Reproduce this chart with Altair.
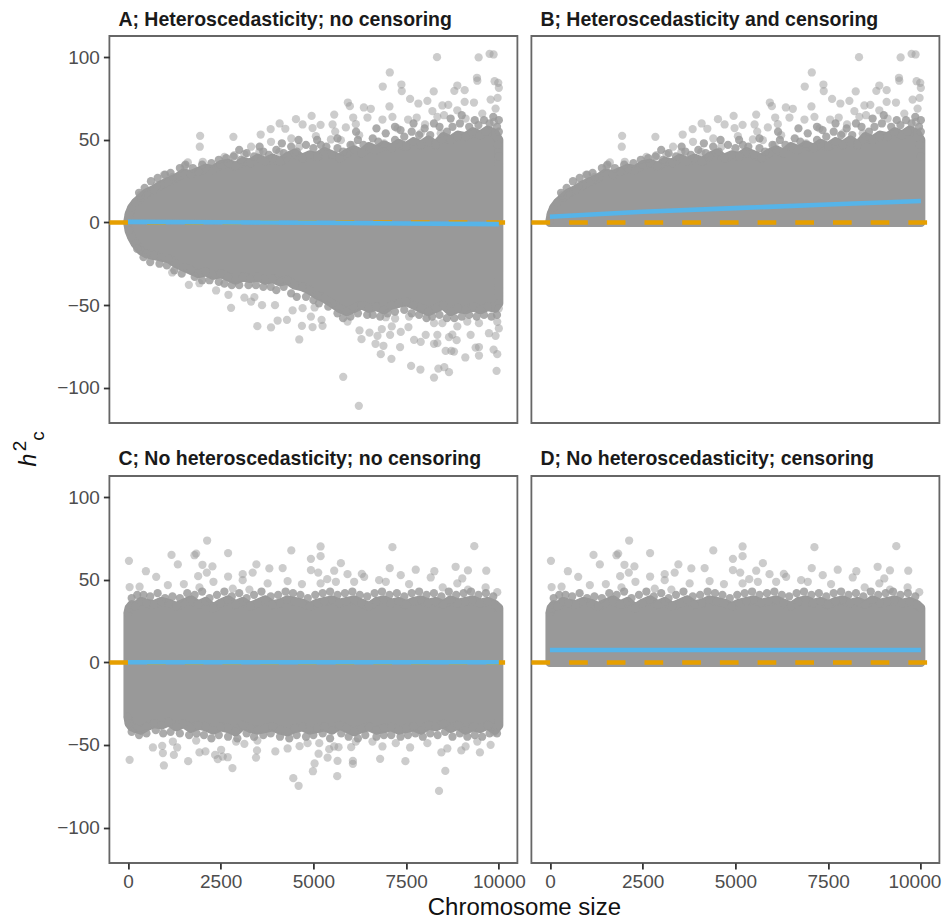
import altair as alt
import pandas as pd

STATION_X = [0,30,100,200,350,500,700,900,1100,1300,1500,1700,1900,2100,2300,2500,2700,2900,3100,3300,3500,3700,3900,4100,4300,4500,4700,4900,5100,5300,5500,5700,5900,6100,6300,6500,6700,6900,7100,7300,7500,7700,7900,8100,8300,8500,8700,8900,9100,9300,9500,9700,9900,10000]
HET_TOP = [1,5,9,12,15,18,20,23,25,27,30,29,31,33,32,35,36,34,37,36,39,37,39,37,40,42,39,41,40,43,41,39,42,44,42,46,44,47,45,48,46,49,47,50,47,52,50,53,52,55,53,56,54,50]
HET_BOTTOM = [-1,-5,-9,-13,-17,-19,-20,-21,-22,-25,-27,-29,-31,-30,-32,-31,-33,-35,-33,-34,-33,-35,-34,-36,-35,-38,-39,-41,-44,-46,-49,-52,-54,-52,-50,-52,-51,-53,-50,-49,-48,-50,-52,-54,-52,-50,-54,-52,-53,-51,-53,-51,-52,-49]
HOM_TOP = [30,33,35,34,37,36,35,37,36,34,36,38,35,37,33,36,38,35,37,34,36,38,35,36,38,37,36,34,36,37,38,36,37,38,36,34,37,38,36,37,35,37,38,36,37,35,38,36,37,38,36,37,35,33]
HOM_BOTTOM = [-33,-37,-39,-40,-41,-39,-37,-38,-36,-39,-37,-40,-38,-39,-41,-39,-40,-42,-38,-40,-41,-40,-39,-41,-42,-40,-39,-41,-40,-39,-41,-38,-40,-42,-40,-39,-41,-40,-39,-41,-40,-39,-41,-38,-39,-37,-40,-38,-41,-39,-40,-38,-41,-38]

HET_UP_X = [8333,9455,9750,9858,7060,6870,7373,7382,8244,8800,8880,9078,9410,9419,9885,9984,10000,7607,7830,8073,8208,8477,8638,9078,9329,9778,9966,5929,5983,6360,6548,7050,5561,4952,4530,4709,4090,3848,4243,3579,2843,1946,1937,5194,4978,5517,5588,5875,6073,6144,6458,6862,7131,7553,7786,8010,8342,8522,8880,9104,9553,9912,9867,4404,5068,5472,5741,6234,3857,3319,2870,2601,2018,1615,1525,1211,969,780,332,3139,3543,4081,4619,6054,6907,7266,7894,8432,8880,9643,9966,10000]
HET_UP_Y = [100.2,100,102.2,101.8,90.9,82.4,83.6,79.6,79.4,79.8,83,80.2,87.7,85.9,85.6,84.6,81.6,74.9,72.1,73.7,67.5,70.9,71.3,73.1,72.7,74.5,75.5,72.7,70.5,69.7,68.9,70.3,65.4,64.6,62.6,59.4,60,56.6,56.8,53.3,51.9,52.5,45.9,59.2,57.2,59.4,55.1,57.6,63.6,59.6,63.6,62.4,64,62.4,63.6,59.4,64,65,68,63,66,69,61,50.9,52.3,50.3,49.9,52.9,48.9,45.9,40.8,39.8,36.8,36.4,34.1,27.7,28.9,22.6,16.6,41.4,42.8,42.8,45.9,46.9,47.9,57,54,54,52,55,47,40]
HET_UP_BAND_X = [300,450,620,800,1000,1150,1400,1550,1750,2000,2250,2450,2650,2850,3050,3200,3400,3650,3800,4000,4200,4400,4550,4800,5000,5200,5350,5650,5800,6000,6200,6350,6600,6750,6950,7200,7350,7450,7650,7850,8000,8150,8400,8600,8750,8950,9200,9350,9450,9600,9750,9850,9950,10000,10000,9000,8700,8250,7700,7200,6700,6150,5650,5100,4600,4150,3550,3000]
HET_UP_BAND_Y = [18,21,25,27,29,30,33,35,33,35,36,38,39,40,38,42,40,43,41,44,42,46,43,47,45,47,46,45,43,47,50,47,51,49,54,50,56,52,55,53,57,53,58,55,58,60,58,62,59,62,60,64,58,62,55,65,63,60,60,58,57,55,51,50,50,48,46,44]
HET_DOWN_X = [6225,5804,8252,7885,7634,8369,8530,8656,9939,7104,6817,7337,6889,6674,9096,9464,9374,9464,9858,9957,8719,8791,8566,8342,8252,8656,8862,9239,9733,9912,10000,9957,7894,7714,8028,7562,7580,7355,7068,6844,7113,7203,6952,6512,6728,6297,6243,5920,4619,4978,4691,5247,5220,3857,3489,4036,4287,2780,3615,3965,4440,5032,4933,4709,1193,1642,1928,2377,2709,3139,3409,3319,8252,8477,8880,9149,9464,10000,8342,8746]
HET_DOWN_Y = [-111.1,-93.5,-94,-89.1,-86.9,-88.5,-87.7,-90.7,-89.9,-82.6,-79.8,-75.5,-74.7,-73.5,-81.8,-80.6,-75.8,-75.5,-77,-79.8,-77.8,-78.2,-77.8,-73.1,-73.5,-69.5,-71.3,-68.1,-67.1,-68.7,-64.2,-60.2,-72.3,-71.1,-68.1,-63.4,-57,-66.3,-68.1,-64.6,-63,-58.2,-57.4,-66.7,-68.7,-70.7,-65.4,-60,-70.9,-63.4,-62.6,-62.6,-59,-63.6,-62.8,-59.4,-59,-51.7,-50.1,-50.1,-53.3,-51.5,-57,-51.9,-30.3,-37.8,-36.8,-41.2,-43.8,-45.5,-45.2,-47.9,-61,-61,-63,-60,-61,-52,-68.1,-68]
HET_DOWN_BAND_X = [250,420,600,850,1050,1250,1450,1800,2000,2200,2450,2600,2800,3000,3250,3450,3650,3850,4000,4200,4400,4550,4800,5000,5150,5400,5650,5800,6000,6200,6450,6600,6800,7000,7200,7450,7650,7850,8050,8200,8400,8600,8800,9000,9200,9400,9600,9800,9950]
HET_DOWN_BAND_Y = [-16,-21,-24,-25,-26,-29,-31,-33,-35,-35,-36,-37,-38,-38,-38,-38,-39,-39,-41,-39,-43,-45,-45,-47,-49,-51,-55,-58,-57,-55,-56,-56,-57,-55,-54,-53,-55,-56,-58,-57,-56,-58,-58,-57,-56,-57,-56,-57,-56]
HOM_UP_X = [27,1175,1345,1839,1794,2135,2700,4404,5194,5194,4933,7131,9338,5741,484,762,2009,2278,2126,1893,2700,3094,3463,3363,3812,4171,4933,5130,5561,5920,6306,6369,7059,7355,7759,8261,8835,9167,9661,8163,9014,5373,4305,3094,45,314,1076,1507,2305,3767,4691,5194,5606,6099,6772,6952,7579,8880,9643,9957,1928,2826,3274,8486,9167]
HOM_UP_Y = [61.6,65.2,59.4,66,65,73.9,66.3,67.9,70.3,64.4,62.8,69.9,70.5,60.2,55.3,51.9,59.2,58.2,54.5,52.3,52.1,53.5,59.4,54.5,57,57.2,56,54.5,55.6,53.5,53.7,51.9,57.2,52.9,56.2,55.3,58,55.8,55.6,51.5,50.9,50.5,49.3,49.9,45.7,45.9,46.9,47.5,48.9,47.9,47.5,47.9,48.9,48.9,49.9,48.9,47.5,47.9,45.5,42.6,45.5,44.8,44.2,45.5,44.2]
HOM_UP_BAND_X = [100,250,420,600,800,1000,1200,1400,1600,1800,2000,2200,2400,2600,2800,3000,3200,3400,3600,3850,4050,4250,4450,4650,4850,5050,5250,5450,5650,5850,6050,6250,6450,6650,6850,7050,7250,7450,7650,7850,8050,8250,8450,8650,8850,9050,9250,9450,9650,9850]
HOM_UP_BAND_Y = [39,41,41,40,42,39,40,39,42,41,43,39,41,43,40,42,39,41,43,40,41,43,42,41,39,41,42,43,41,42,43,41,40,42,43,41,42,40,42,43,41,42,40,43,41,42,43,41,42,40]
HOM_DOWN_X = [45,673,924,942,969,1238,1327,1624,1928,2090,2350,2512,2422,2557,2691,2817,3453,3480,3489,3139,3974,4305,4628,4458,4601,4987,5032,5140,5158,5382,5427,5561,5678,5651,5642,6019,6064,6064,6799,6862,7481,7607,8387,8557,8450,8611,8988,9104,9490,9778,8073,7221,6144,6593,4844,2915,1839,1211,9419,9867]
HOM_DOWN_Y = [-59,-51.5,-50.5,-54.9,-62.4,-56,-51.5,-59.8,-54.5,-53.9,-56,-52.9,-58.6,-57,-57.4,-64,-57.6,-53.3,-47.3,-49.3,-53.9,-52.1,-50.7,-70.1,-74.7,-65.9,-61.2,-55.3,-48.9,-57.6,-52.5,-50.9,-51.3,-59.6,-68.9,-51.3,-59.6,-61.4,-58.4,-50.9,-59.8,-51.5,-77.8,-65.7,-54.5,-52.1,-53.3,-50.9,-54.5,-49.9,-48.9,-48.9,-47.9,-47.9,-48.9,-47.9,-47.3,-47.9,-47.9,-42.4]
HOM_DOWN_BAND_X = [100,300,500,750,950,1150,1400,1650,1850,2050,2250,2450,2700,2950,3200,3400,3650,3850,4100,4350,4550,4800,5000,5250,5450,5750,5950,6200,6400,6700,6900,7100,7350,7550,7750,7950,8150,8350,8550,8750,8950,9150,9350,9550,9750,9950]
HOM_DOWN_BAND_Y = [-42,-44,-43,-41,-43,-42,-43,-44,-43,-44,-46,-44,-45,-46,-43,-45,-44,-43,-45,-46,-44,-45,-44,-43,-46,-43,-45,-46,-44,-45,-44,-44,-45,-44,-43,-45,-43,-44,-42,-45,-43,-45,-44,-45,-43,-43]

FIT_X = [0,2500,5000,7500,10000]
FIT_A = [0.4,0.1,-0.2,-0.6,-1.0]
FIT_B = [3.5,6.5,8.7,10.9,13]
FIT_C = [0.1,0.1,0.1,0.1,0.1]
FIT_D = [7.6,7.6,7.6,7.6,7.6]
REF_X = [-500]
REF_X2 = [10500]
REF_Y = [0]
X_TICKS = [0,2500,5000,7500,10000]
Y_TICKS = [-100,-50,0,50,100]
TITLES = ["A; Heteroscedasticity; no censoring","B; Heteroscedasticity and censoring","C; No heteroscedasticity; no censoring","D; No heteroscedasticity; censoring"]

GREY = "#999999"
FONT = "Liberation Sans"
xs = alt.Scale(domain=[-500,10500], nice=False, zero=False)
ys = alt.Scale(domain=[-121.5,113], nice=False, zero=False)

def axis(vals, show, nudge_last=False):
    if not show:
        return None
    kw = {}
    if nudge_last:
        kw["labelOffset"] = {"condition": {"test": "datum.value == 10000", "value": -6.5}, "value": 0}
    return alt.Axis(values=vals, title=None, grid=False, domain=False, tickColor="#333333", tickWidth=1.8,
                    tickSize=6, labelColor="#4D4D4D", labelFontSize=19, labelFont=FONT, labelPadding=4,
                    labelOverlap=False, labelFlush=False, format="d", **kw)

def panel(title, top, bottom, ux, uy, bx, by, fit, show_x, show_y, extra=(), nudge_last=False):
    X = alt.X("x:Q", scale=xs, axis=axis(X_TICKS, show_x, nudge_last))
    Y = alt.Y("y:Q", scale=ys, axis=axis(Y_TICKS, show_y))
    env = pd.DataFrame({"x": STATION_X, "y": top, "base": [0]*len(top)})
    layers = [
        alt.Chart(env).mark_area(fill=GREY, stroke=GREY, strokeWidth=9, strokeJoin="round", opacity=1).encode(x=X, y=Y, y2="base:Q"),
        alt.Chart(env).mark_circle(size=68, color=GREY, opacity=1).encode(x=X, y=Y),
    ]
    if bottom is not None:
        env2 = pd.DataFrame({"x": STATION_X, "y": bottom, "base": [0]*len(bottom)})
        layers.append(alt.Chart(env2).mark_area(fill=GREY, stroke=GREY, strokeWidth=9, strokeJoin="round", opacity=1).encode(x=X, y=Y, y2="base:Q"))
        layers.append(alt.Chart(env2).mark_circle(size=68, color=GREY, opacity=1).encode(x=X, y=Y))
    pts = pd.DataFrame({"x": ux, "y": uy})
    layers.append(alt.Chart(pts).mark_circle(size=68, color=GREY, opacity=0.5).encode(x=X, y=Y))
    band = pd.DataFrame({"x": bx, "y": by})
    layers.append(alt.Chart(band).mark_circle(size=68, color=GREY, opacity=0.82).encode(x=X, y=Y))
    ref = pd.DataFrame({"x": REF_X, "x2": REF_X2, "y": REF_Y})
    layers.append(alt.Chart(ref).mark_rule(color="#E69F00", strokeWidth=4.6, strokeDash=[18.7, 19]).encode(x=X, x2="x2:Q", y=Y))
    line = pd.DataFrame({"x": FIT_X, "y": fit})
    layers.append(alt.Chart(line).mark_line(color="#56B4E9", strokeWidth=4.6).encode(x=X, y=Y))
    layers.extend(extra)
    return alt.layer(*layers).properties(
        width=408, height=387,
        title=alt.TitleParams(title, anchor="start", frame="group", font=FONT, fontSize=19.5, fontWeight="bold", color="#1a1a1a", offset=6, dx=9),
    )

def note(text, px, py, size, **kw):
    return alt.Chart(pd.DataFrame({"t": [text]})).mark_text(font=FONT, fontSize=size, color="#111111", **kw).encode(
        text="t:N", x=alt.value(px), y=alt.value(py))

h_label = [note("h", -80, 424, 23, angle=270, fontStyle="italic"),
           note("2", -89, 410, 19, angle=270),
           note("c", -71, 400, 19, angle=270)]
x_label = [note("Chromosome size", 415, 432, 24)]

A = panel(TITLES[0], HET_TOP, HET_BOTTOM, HET_UP_X + HET_DOWN_X, HET_UP_Y + HET_DOWN_Y, HET_UP_BAND_X + HET_DOWN_BAND_X, HET_UP_BAND_Y + HET_DOWN_BAND_Y, FIT_A, False, True, h_label)
B = panel(TITLES[1], HET_TOP, None, HET_UP_X, HET_UP_Y, HET_UP_BAND_X, HET_UP_BAND_Y, FIT_B, False, False)
C = panel(TITLES[2], HOM_TOP, HOM_BOTTOM, HOM_UP_X + HOM_DOWN_X, HOM_UP_Y + HOM_DOWN_Y, HOM_UP_BAND_X + HOM_DOWN_BAND_X, HOM_UP_BAND_Y + HOM_DOWN_BAND_Y, FIT_C, True, True, x_label)
D = panel(TITLES[3], HOM_TOP, None, HOM_UP_X, HOM_UP_Y, HOM_UP_BAND_X, HOM_UP_BAND_Y, FIT_D, True, False, nudge_last=True)

chart = alt.concat(A, B, C, D, columns=2, bounds="flush", spacing={"row": 53, "column": 14},
                   padding={"left": 2.4, "top": 0, "right": -1.5, "bottom": -2},
                   background="white").configure_view(stroke="#666666", strokeWidth=1.8)

chart.save("out.html", embed_options={"renderer": "svg", "actions": False})
